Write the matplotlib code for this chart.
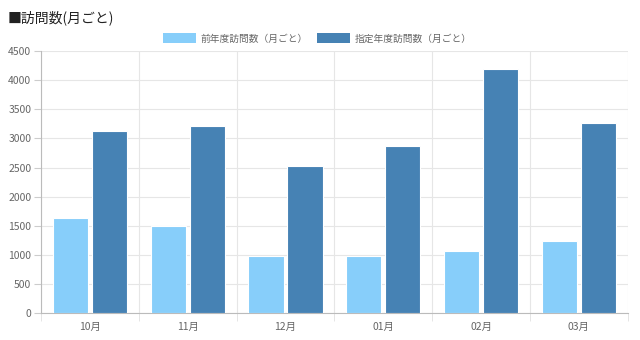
import matplotlib.pyplot as plt
import numpy as np
from matplotlib.patches import Patch

plt.rcParams['font.family'] = ['Noto Sans CJK JP', 'DejaVu Sans']

months = ['10月', '11月', '12月', '01月', '02月', '03月']
prev_year = [1630, 1495, 980, 985, 1065, 1240]
target_year = [3125, 3215, 2530, 2875, 4185, 3265]
series_names = ['前年度訪問数（月ごと）', '指定年度訪問数（月ごと）']
colors = ['#87CEFA', '#4682B4']

fig = plt.figure(figsize=(6.4, 3.4), dpi=100)
ax = fig.add_axes([0.064, 0.079, 0.917, 0.771])

x = np.arange(len(months))
w = 0.36
ax.bar(x - 0.2, prev_year, w, color=colors[0], edgecolor='white', linewidth=0.8, zorder=3)
ax.bar(x + 0.2, target_year, w, color=colors[1], edgecolor='white', linewidth=0.8, zorder=3)

ax.set_xlim(-0.5, len(months) - 0.5)
ax.set_ylim(0, 4500)
ax.set_yticks(np.arange(0, 4501, 500))
ax.set_xticks(x)
ax.set_xticklabels(months)
ax.set_xticks(np.arange(-0.5, len(months)), minor=True)

ax.grid(axis='y', color='#e6e6e6', linewidth=0.8, zorder=0)
ax.grid(axis='x', which='minor', color='#e6e6e6', linewidth=0.8, zorder=0)
ax.tick_params(axis='x', which='major', length=0, labelsize=7.5, labelcolor='#666666', pad=6)
ax.tick_params(axis='x', which='minor', length=6, color='#e0e0e0')
ax.tick_params(axis='y', length=5, color='#cccccc', labelsize=7.5, labelcolor='#666666', pad=2)

for s in ['top', 'right']:
    ax.spines[s].set_visible(False)
for s in ['left', 'bottom']:
    ax.spines[s].set_color('#bbbbbb')
    ax.spines[s].set_linewidth(0.8)

fig.text(0.012, 0.948, '■訪問数(月ごと)', fontsize=10, color='#222222', va='center')

handles = [Patch(facecolor=c, edgecolor='none') for c in colors]
fig.legend(handles, series_names, loc='center', bbox_to_anchor=(0.496, 0.887), ncol=2,
           frameon=False, fontsize=7, labelcolor='#666666', handlelength=3.4,
           handleheight=1.2, columnspacing=0.9, handletextpad=0.5)

fig.savefig('out.png', dpi=100)
